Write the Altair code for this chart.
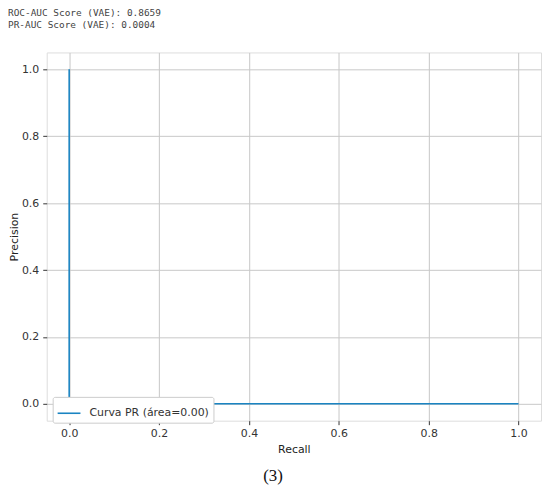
import altair as alt
import pandas as pd

recall = [0.0, 0.0, 1.0]
precision = [1.0, 0.0004, 0.0004]
order = [0, 1, 2]
series = ["Curva PR (área=0.00)"] * 3
ticks = [0.0, 0.2, 0.4, 0.6, 0.8, 1.0]
header_lines = ["ROC-AUC Score (VAE): 0.8659", "PR-AUC Score (VAE): 0.0004"]
caption = "(3)"

df = pd.DataFrame({"recall": recall, "precision": precision, "order": order, "series": series})

axis_common = dict(
    values=ticks, format=".1f", grid=True, gridColor="#c8c8c8", gridWidth=1,
    domain=False, tickColor="#333333", tickSize=4, labelFont="DejaVu Sans",
    labelFontSize=11, labelColor="#333333", titleFont="DejaVu Sans",
    titleFontSize=11, titleFontWeight="normal", titleColor="#222222",
)

line = alt.Chart(df).mark_line(strokeWidth=1.6, clip=True).encode(
    x=alt.X("recall:Q", title="Recall",
            scale=alt.Scale(domain=[-0.05, 1.05], nice=False, zero=False),
            axis=alt.Axis(labelPadding=3, titlePadding=5, **axis_common)),
    y=alt.Y("precision:Q", title="Precision",
            scale=alt.Scale(domain=[-0.05, 1.05], nice=False, zero=False),
            axis=alt.Axis(labelPadding=4, titlePadding=2, **axis_common)),
    order="order:Q",
    color=alt.Color("series:N", scale=alt.Scale(range=["#1a84c2"]),
                    legend=alt.Legend(
                        title=None, orient="none", legendX=6, legendY=347,
                        symbolType="stroke", symbolSize=529, symbolStrokeWidth=1.6,
                        labelFont="DejaVu Sans", labelFontSize=11, labelColor="#333333",
                        labelOffset=8, padding=4, fillColor="white",
                        strokeColor="#cccccc", cornerRadius=2)),
)

def text_layer(txt, x, y, **kw):
    return alt.Chart(pd.DataFrame({"t": [txt]})).mark_text(**kw).encode(
        text="t:N", x=alt.value(x), y=alt.value(y))

mono = dict(align="left", baseline="middle", font="DejaVu Sans Mono", fontSize=9.5, color="#444444")
h1 = text_layer(header_lines[0], -39, -40, **mono)
h2 = text_layer(header_lines[1], -39, -28, **mono)

cap = text_layer(caption, 228, 432, align="center", baseline="alphabetic",
                 font="Liberation Serif", fontSize=17, color="#111111")

chart = alt.layer(line, h1, h2, cap).properties(
    width=498, height=371,
    autosize=alt.AutoSizeParams(type="none"),
    padding={"left": 39, "top": 43, "right": 1, "bottom": 64},
).configure_view(stroke="#333333", strokeWidth=1).configure(background="white")

chart.save("out.html", embed_options={"renderer": "svg", "actions": False})
